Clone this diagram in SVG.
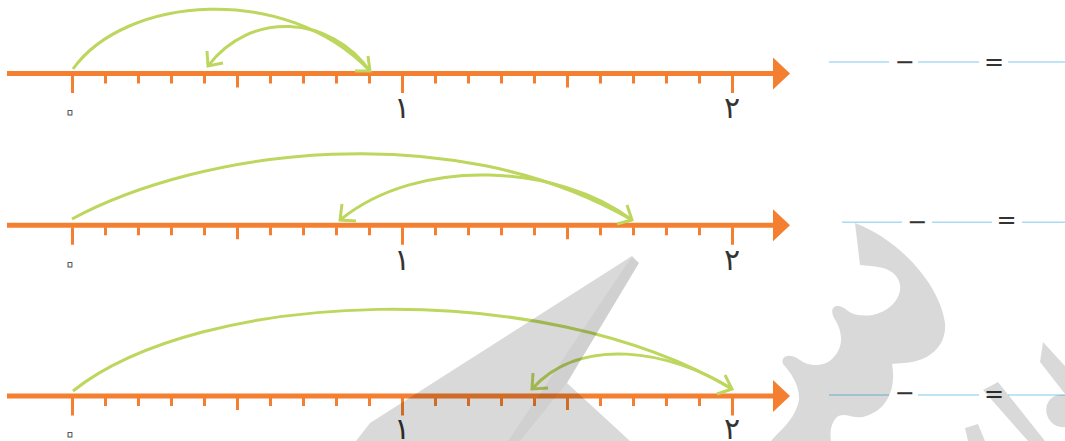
<svg xmlns="http://www.w3.org/2000/svg" xmlns:xlink="http://www.w3.org/1999/xlink" width="1065" height="441" viewBox="0 0 1065 441">
<style>
.ax{stroke:#f47f30;fill:none}
.axh{fill:#f47f30}
.arc{fill:none;stroke:#bcd65e;stroke-width:3}
.lbl{font-family:"DejaVu Sans",sans-serif;font-size:30px;fill:#333;text-anchor:middle}
.zero{font-family:"DejaVu Sans",sans-serif;font-size:36px;fill:#fff;stroke:#555;stroke-width:1;stroke-linejoin:round;text-anchor:middle}
.op{font-family:"DejaVu Sans",sans-serif;font-size:24px;fill:#333;text-anchor:middle}
.blank{stroke:#a9dcf2;stroke-width:1.6}
.wm{fill:#000;fill-opacity:0.15}
</style>
<defs>
<g id="axis">
<line class="ax" x1="7" y1="0" x2="776" y2="0" stroke-width="5"/>
<polygon class="axh" points="773,-16 790,0 773,16"/>
<path class="ax" stroke-width="3" d="M72.5,2 V19.5 M402.5,2 V19.5 M732.5,2 V19.5 M237.5,2 V14 M567.5,2 V14 M105.5,2 V10 M138.5,2 V10 M171.5,2 V10 M204.5,2 V10 M270.5,2 V10 M303.5,2 V10 M336.5,2 V10 M369.5,2 V10 M435.5,2 V10 M468.5,2 V10 M501.5,2 V10 M534.5,2 V10 M600.5,2 V10 M633.5,2 V10 M666.5,2 V10 M699.5,2 V10"/>
</g>
</defs>

<g id="line1">
<use xlink:href="#axis" href="#axis" x="0" y="73.5"/>
<text class="zero" x="70" y="123">۰</text>
<text class="lbl" x="402" y="118">۱</text>
<text class="lbl" x="732" y="118">۲</text>
</g>
<g id="line2">
<use xlink:href="#axis" href="#axis" x="0" y="225.3"/>
<text class="zero" x="70" y="275">۰</text>
<text class="lbl" x="402" y="270">۱</text>
<text class="lbl" x="732" y="270">۲</text>
</g>
<g id="line3">
<use xlink:href="#axis" href="#axis" x="0" y="396"/>
<text class="zero" x="70" y="444.5">۰</text>
<text class="lbl" x="402" y="439">۱</text>
<text class="lbl" x="732" y="439">۲</text>
</g>

<g id="connectors">
<path class="arc" d="M73,69 C125,-4 285,-18 370,71"/>
<polyline class="arc" points="355,71 370,71 368,56"/>
<path class="arc" d="M370,71 C330,15 250,10 208,66"/>
<polyline class="arc" points="207,51 208,66 223,63"/>

<path class="arc" d="M72,219 C200,150 450,115 632,220"/>
<polyline class="arc" points="617,224 632,220 627,205"/>
<path class="arc" d="M632,220 C560,165 420,155 340,220"/>
<polyline class="arc" points="342,204 340,220 356,221"/>

<path class="arc" d="M73,391 C200,290 540,275 732,389"/>
<polyline class="arc" points="717,394 732,389 725,375"/>
<path class="arc" d="M732,389 C670,350 580,335 532,389"/>
<polyline class="arc" points="533,373 532,389 548,388"/>
</g>

<g id="eq1">
<line class="blank" x1="829" y1="62" x2="889" y2="62"/>
<text class="op" x="904.5" y="69.5">−</text>
<line class="blank" x1="918" y1="62" x2="979" y2="62"/>
<text class="op" x="994" y="69.5">=</text>
<line class="blank" x1="1008" y1="62" x2="1065" y2="62"/>
</g>
<g id="eq2">
<line class="blank" x1="842" y1="222.3" x2="902" y2="222.3"/>
<text class="op" x="917" y="229.5">−</text>
<line class="blank" x1="932" y1="222.3" x2="992" y2="222.3"/>
<text class="op" x="1006.5" y="228">=</text>
<line class="blank" x1="1022" y1="222.3" x2="1065" y2="222.3"/>
</g>
<g id="eq3">
<line class="blank" x1="829" y1="395" x2="889" y2="395"/>
<text class="op" x="904.5" y="401">−</text>
<line class="blank" x1="918" y1="395" x2="979" y2="395"/>
<text class="op" x="994" y="402">=</text>
<line class="blank" x1="1008" y1="395" x2="1065" y2="395"/>
</g>

<g id="watermark">
<polygon class="wm" points="632,256 639,263 567,383 630,441 356,441 370,423"/>
<polygon fill="#000" fill-opacity="0.04" points="632,257 639,263 567,383 520,441 508,441 624,268"/>
<path class="wm" d="M855,223 C900,240 940,285 945,323 C947,345 930,362 903,363 L892,364 C896,385 890,410 863,417 C852,419 843,411 836,418 C830,425 830,435 831,441 L771,441 C780,430 795,420 799,400 C800,385 790,372 783,364 C780,356 790,352 800,360 C810,368 826,366 833,358 C845,346 842,330 834,318 C828,306 838,302 848,311 C858,318 880,318 893,304 C904,292 902,278 890,271 C882,266 868,266 860,265 Z"/>
<polygon class="wm" points="1043,342 1065,366 1065,394 1040,362"/>
<polygon class="wm" points="983,390 998,382 1045,441 1028,441"/>
<path class="wm" d="M1065,395 C1050,393 1044,405 1047,415 C1050,425 1060,428 1065,427 Z"/>
<polygon class="wm" points="965,428 978,424 985,441 968,441"/>
</g>
</svg>
